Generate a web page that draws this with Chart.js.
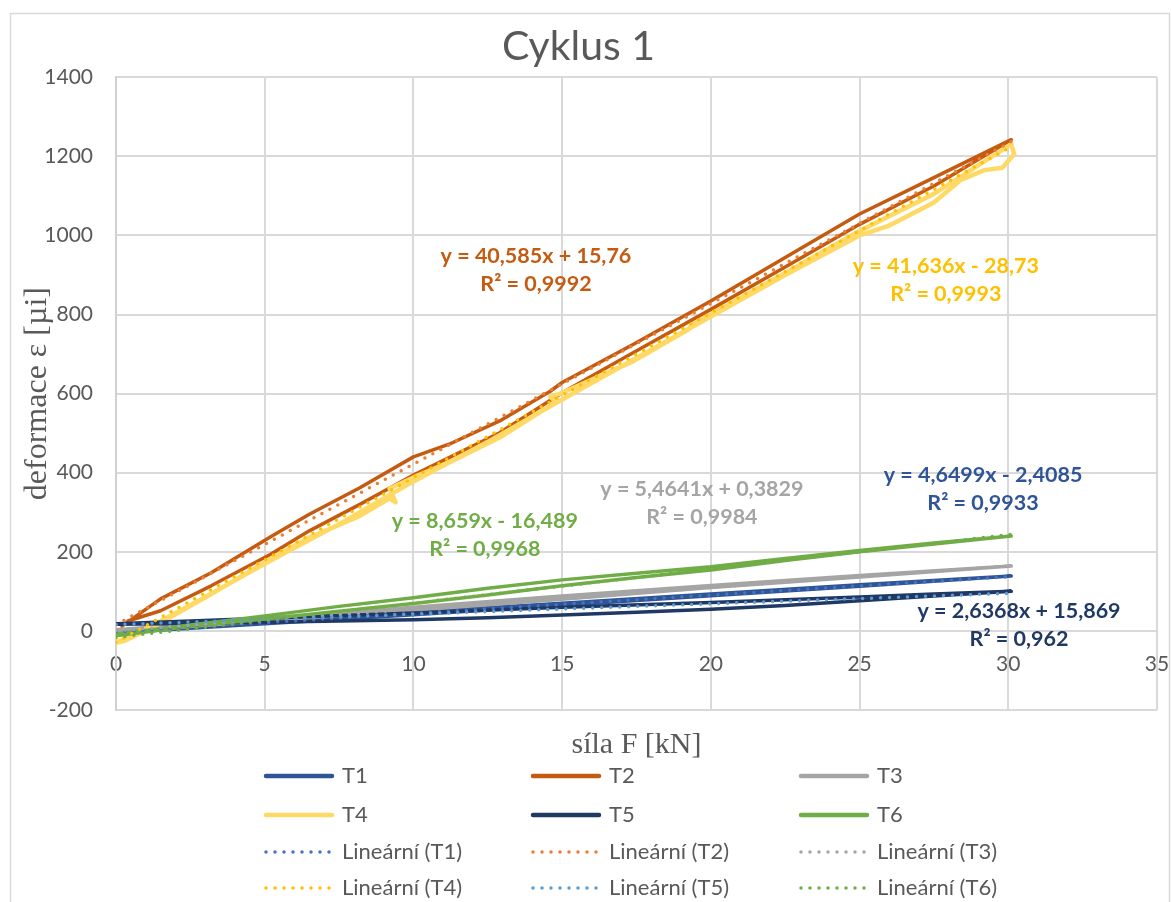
<!DOCTYPE html>
<html>
<head>
<meta charset="utf-8">
<script src="https://cdn.jsdelivr.net/npm/chart.js@4.4.0/dist/chart.umd.min.js"></script>
<style>
  html, body { margin: 0; padding: 0; background: #fff; }
</style>
</head>
<body>
<canvas id="myChart" width="1171" height="902"></canvas>
<script>
// series names
const seriesNames = ["T1", "T2", "T3", "T4", "T5", "T6"];

// síla F [kN] / deformace [µi] - loading up, unloading back
const t1F = [0, 5, 10, 15, 20, 25, 30.1, 25, 20, 15, 10, 5, 0];
const t1E = [-5, 18, 41, 65, 89, 113, 139, 117, 93, 70, 47, 24, 0];

const t2F = [0.4, 1.5, 3.2, 5.2, 6.5, 8.2, 10, 11.2, 12.9, 15, 17.4, 20, 22.5, 25, 27.5, 30.1,
             27.5, 25, 22.5, 20, 17.4, 15, 14.6, 12.9, 11.2, 10, 8.2, 6.5, 5.2, 3.2, 1.5, 0.2];
const t2E = [25, 51, 114, 194, 253, 320, 394, 438, 501, 602, 704, 813, 920, 1028, 1125, 1242,
             1146, 1054, 944, 834, 725, 628, 606, 531, 472, 440, 362, 295, 238, 147, 81, 12];

const t3F = [0, 5, 10, 15, 20, 25, 30.1, 25, 20, 15, 10, 5, 0];
const t3E = [-2, 25, 52, 80, 110, 136, 164, 140, 115, 88, 60, 31, 3];

const t4F = [0, 0.3, 1.2, 3.2, 5.2, 6.5, 8.2, 9.2, 9.4, 9.2, 10, 11.2, 12.9, 14.4, 14.8, 14.6, 15, 17.4, 19.2, 19.4, 20, 22.5, 25, 27.5, 30.1,
             30.2, 29.8, 29.2, 28.4, 27.5, 26, 25, 22.5, 20, 17.5, 15, 12.5, 10, 7.5, 5, 2.5, 0.5, 0];
const t4E = [-30, -25, 8, 93, 182, 236, 291, 335, 325, 360, 388, 426, 489, 560, 578, 592, 602, 682, 760, 775, 801, 905, 1011, 1105, 1231,
             1205, 1171, 1165, 1140, 1083, 1025, 1000, 900, 795, 690, 585, 478, 378, 270, 170, 65, -15, -28];

const t5F = [0, 2.5, 5, 7.5, 10, 12.5, 15, 17.5, 20, 22.5, 25, 27.5, 30.1, 27.5, 25, 20, 15, 10, 5, 0];
const t5E = [17, 19, 22, 25, 28, 33, 40, 47, 55, 64, 76, 88, 100, 93, 86, 72, 60, 45, 32, 18];

const t6F = [0, 2.5, 5, 7.5, 10, 12.5, 15, 17.5, 20, 22.5, 25, 27.5, 30.1,
             27.5, 25, 22.5, 20, 17.5, 15, 12.5, 10, 7.5, 5, 2.5, 0];
const t6E = [-12, 12, 30, 50, 69, 91, 114, 135, 154, 178, 200, 220, 240,
             222, 203, 183, 162, 146, 129, 108, 84, 62, 38, 15, -8];

// linear trend lines (Lineární), ends at F = 0 and F = 30,1
const trendF = [0, 30.1];
const trend1E = [-2.4, 137.5];
const trend2E = [15.8, 1237.4];
const trend3E = [0.4, 164.9];
const trend4E = [-28.7, 1224.5];
const trend5E = [15.9, 95.2];
const trend6E = [-16.5, 244.1];

// trend equations
const eqText = ["y = 4,6499x - 2,4085", "y = 40,585x + 15,76", "y = 5,4641x + 0,3829",
                "y = 41,636x - 28,73", "y = 2,6368x + 15,869", "y = 8,659x - 16,489"];
const r2Text = ["R² = 0,9933", "R² = 0,9992", "R² = 0,9984", "R² = 0,9993", "R² = 0,962", "R² = 0,9968"];

// tick labels
const xTicks = [0, 5, 10, 15, 20, 25, 30, 35];
const yTicks = [-200, 0, 200, 400, 600, 800, 1000, 1200, 1400];

// styles
const lineColors = ["#2F5597", "#C55A11", "#A5A5A5", "#FFD966", "#203864", "#70AD47"];
const trendColors = ["#4472C4", "#ED7D31", "#A5A5A5", "#FFC000", "#5B9BD5", "#70AD47"];
const labelColors = ["#2F5597", "#C55A11", "#A5A5A5", "#FFC000", "#203864", "#70AD47"];
// where the equations sit (in axis units)
const eqPos = [[29.15, 394], [14.12, 948], [19.7, 359], [27.9, 923], [30.36, 51], [12.4, 278]];

const seriesF = [t1F, t2F, t3F, t4F, t5F, t6F];
const seriesE = [t1E, t2E, t3E, t4E, t5E, t6E];
const trendE = [trend1E, trend2E, trend3E, trend4E, trend5E, trend6E];

let toPoints = (xs, ys) => xs.map((x, i) => ({ x: x, y: ys[i] }));

const datasets = [];
seriesNames.forEach((name, i) => {
  datasets.push({
    label: name,
    data: toPoints(seriesF[i], seriesE[i]),
    borderColor: lineColors[i],
    borderWidth: i === 3 ? 4.5 : 3.5,
    borderCapStyle: "round",
    borderJoinStyle: "round",
    pointRadius: 0,
    tension: 0,
    fill: false,
    order: 20 - i,
  });
});
seriesNames.forEach((name, i) => {
  datasets.push({
    label: "Lineární (" + name + ")",
    data: toPoints(trendF, trendE[i]),
    borderColor: trendColors[i],
    borderWidth: 3.5,
    borderDash: [0, 9],
    borderCapStyle: "round",
    pointRadius: 0,
    tension: 0,
    fill: false,
    order: 10 - i,
  });
});

//* frame, equations, x title and legend
const extras = {
  id: "extras",
  beforeDraw(chart) {
    const c = chart.ctx;
    c.save();
    c.fillStyle = "#fff";
    c.fillRect(0, 0, chart.width, chart.height);
    c.strokeStyle = "#d9d9d9";
    c.lineWidth = 1.5;
    c.strokeRect(10.5, 13.5, 1159, 1000);
    c.restore();
  },
  afterDraw(chart) {
    const c = chart.ctx;
    const xs = chart.scales.x;
    const ys = chart.scales.y;
    const area = chart.chartArea;
    c.save();
    c.textAlign = "center";
    c.textBaseline = "middle";
    c.font = "bold 21.5px Lato";
    eqPos.forEach((p, i) => {
      const px = xs.getPixelForValue(p[0]);
      const py = ys.getPixelForValue(p[1]);
      c.fillStyle = labelColors[i];
      c.fillText(eqText[i], px, py);
      c.fillText(r2Text[i], px, py + 28);
    });

    c.fillStyle = "#595959";
    c.font = "30px 'Liberation Serif'";
    c.fillText("síla F [kN]", (area.left + area.right) / 2, 745);

    // legend, 3 columns
    const rows = [776, 815, 852, 888];
    const cols = [264, 531, 799];
    c.font = "22px Lato";
    c.textAlign = "left";
    chart.data.datasets.forEach((ds, k) => {
      const row = Math.floor(k / 3);
      const col = k % 3;
      const x0 = cols[col];
      const y0 = rows[row];
      c.beginPath();
      c.strokeStyle = ds.borderColor;
      c.lineCap = "round";
      c.lineWidth = ds.borderDash ? 3.5 : 4.5;
      c.setLineDash(ds.borderDash || []);
      c.moveTo(x0 + 2, y0);
      c.lineTo(x0 + 68, y0);
      c.stroke();
      c.setLineDash([]);
      c.fillStyle = "#595959";
      c.fillText(ds.label, x0 + 78, y0);
    });
    c.restore();
  },
};

const ctx = document.querySelector("#myChart").getContext("2d");
const myChart = new Chart(ctx, {
  type: "line",
  data: { datasets: datasets },
  plugins: [extras],
  options: {
    responsive: false,
    animation: false,
    devicePixelRatio: 1,
    layout: { padding: { top: 14, right: 14, bottom: 192, left: 0 } },
    plugins: {
      legend: { display: false },
      tooltip: { enabled: false },
      title: {
        display: true,
        text: "Cyklus 1",
        color: "#595959",
        font: { family: "Lato", size: 41, weight: "normal" },
        padding: { top: 8, bottom: 6 },
      },
    },
    scales: {
      x: {
        type: "linear",
        min: xTicks[0],
        max: xTicks[xTicks.length - 1],
        position: { y: 0 },
        afterBuildTicks: (s) => { s.ticks = xTicks.map((v) => ({ value: v })); },
        afterFit: (s) => {
          s.height = 40;
          s.paddingLeft = 0;
          s.paddingRight = 0;
        },
        ticks: {
          color: "#595959",
          font: { family: "Lato", size: 21 },
          padding: 21,
          maxRotation: 0,
          callback: (v) => String(v),
        },
        grid: { color: "#d9d9d9", lineWidth: 2, drawTicks: false },
        border: { color: "#d9d9d9", width: 2 },
      },
      y: {
        type: "linear",
        min: yTicks[0],
        max: yTicks[yTicks.length - 1],
        afterBuildTicks: (s) => { s.ticks = yTicks.map((v) => ({ value: v })); },
        afterFit: (s) => { s.width = 116; },
        ticks: {
          color: "#595959",
          font: { family: "Lato", size: 21 },
          padding: 23,
          callback: (v) => String(v),
        },
        grid: { color: "#d9d9d9", lineWidth: 2, drawTicks: false },
        border: { color: "#d0d0d0", width: 2 },
        title: {
          display: true,
          text: "deformace ε [µi]",
          color: "#595959",
          font: { family: "Liberation Serif", size: 32 },
          padding: { top: 18, bottom: 0 },
        },
      },
    },
  },
});
</script>
</body>
</html>
